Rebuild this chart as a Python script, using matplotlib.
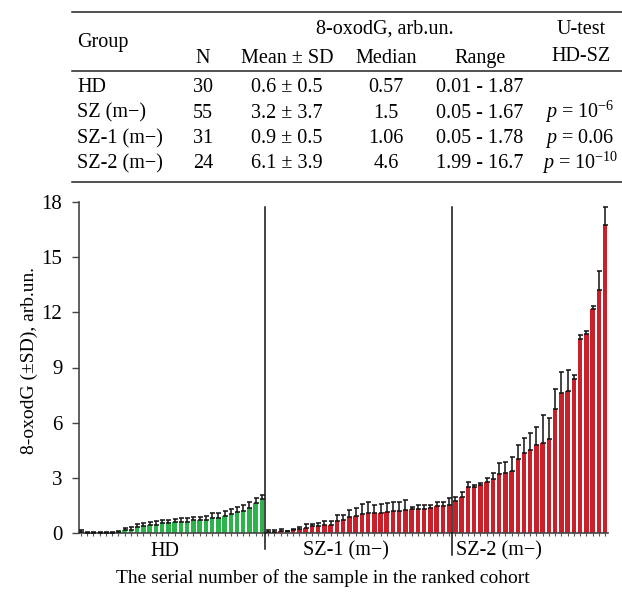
import matplotlib
matplotlib.use("Agg")
import matplotlib.pyplot as plt
import numpy as np

plt.rcParams['font.family'] = ['Liberation Serif', 'DejaVu Serif']
plt.rcParams['mathtext.fontset'] = 'custom'
plt.rcParams['mathtext.rm'] = 'Liberation Serif'
plt.rcParams['mathtext.it'] = 'Liberation Serif:italic'

# ---------------- data ----------------
hd_vals = [0.03, 0.02, 0.02, 0.02, 0.02, 0.02, 0.03, 0.16, 0.16, 0.31, 0.36, 0.42, 0.45, 0.53, 0.53,
           0.58, 0.62, 0.62, 0.69, 0.69, 0.72, 0.80, 0.83, 0.94, 1.03, 1.16, 1.21, 1.38, 1.61, 1.83]
hd_sd = [0.12, 0.03, 0.03, 0.03, 0.03, 0.03, 0.08, 0.11, 0.15, 0.18, 0.17, 0.18, 0.20, 0.16, 0.16,
         0.16, 0.18, 0.21, 0.20, 0.18, 0.20, 0.27, 0.27, 0.26, 0.29, 0.27, 0.29, 0.32, 0.29, 0.22]

sz1_vals = [0.07, 0.07, 0.09, 0.11, 0.14, 0.22, 0.25, 0.36, 0.38, 0.42, 0.43, 0.63, 0.72, 0.85, 0.91,
            1.01, 1.07, 1.09, 1.09, 1.12, 1.18, 1.18, 1.25, 1.30, 1.30, 1.30, 1.34, 1.45, 1.45, 1.54]
sz1_sd = [0.09, 0.08, 0.11, 0.02, 0.10, 0.11, 0.22, 0.15, 0.16, 0.25, 0.24, 0.35, 0.28, 0.40, 0.47,
          0.57, 0.60, 0.45, 0.49, 0.49, 0.49, 0.52, 0.53, 0.11, 0.20, 0.22, 0.20, 0.22, 0.22, 0.38]

sz2_vals = [1.76, 1.97, 2.48, 2.50, 2.59, 2.79, 2.92, 3.21, 3.24, 3.39, 4.02, 4.35, 4.51, 4.80, 4.91,
            5.13, 6.76, 7.61, 7.70, 8.39, 10.56, 10.83, 12.17, 13.24, 16.74]
sz2_sd = [0.20, 0.26, 0.31, 0.11, 0.15, 0.18, 0.34, 0.58, 0.60, 0.74, 0.78, 0.79, 0.91, 0.94, 1.48,
          1.10, 1.08, 1.12, 1.14, 0.18, 0.20, 0.17, 0.20, 1.00, 1.01]

group_labels = ["HD", "SZ-1 (m\u2212)", "SZ-2 (m\u2212)"]
y_ticks = [0, 3, 6, 9, 12, 15, 18]

table_header = ["Group", "N", "Mean \u00b1 SD", "Median", "Range"]
table_groups = ["HD", "SZ (m\u2212)", "SZ-1 (m\u2212)", "SZ-2 (m\u2212)"]
table_n = ["30", "55", "31", "24"]
table_mean = ["0.6 \u00b1 0.5", "3.2 \u00b1 3.7", "0.9 \u00b1 0.5", "6.1 \u00b1 3.9"]
table_median = ["0.57", "1.5", "1.06", "4.6"]
table_range = ["0.01 - 1.87", "0.05 - 1.67", "0.05 - 1.78", "1.99 - 16.7"]
table_p = ["", r"$p$ = 10$^{-6}$", r"$p$ = 0.06", r"$p$ = 10$^{-10}$"]

GREEN = "#2db34b"
RED = "#c8212b"
FS = 14
FS_TAB = 14.5
FS_TICK = 15

W, H = 622, 592
fig = plt.figure(figsize=(W / 100, H / 100), dpi=100)

def fx(x):
    return x / W

def fy(y):
    return 1 - y / H

# ---------------- axes ----------------
ax = fig.add_axes([fx(79), fy(533), fx(608) - fx(79), fy(202) - fy(533)])

n1, n2, n3 = len(hd_vals), len(sz1_vals), len(sz2_vals)
x_hd = np.arange(n1)
x_sz1 = np.arange(n1, n1 + n2)
x_sz2 = np.arange(n1 + n2, n1 + n2 + n3)

bw = 0.72
for xs, vals, sds, col in [(x_hd, hd_vals, hd_sd, GREEN),
                           (x_sz1, sz1_vals, sz1_sd, RED),
                           (x_sz2, sz2_vals, sz2_sd, RED)]:
    ax.bar(xs, vals, width=bw, color=col, edgecolor='none', zorder=2)
    ax.errorbar(xs, vals, yerr=[np.zeros(len(vals)), sds], fmt='none',
                ecolor='#111111', elinewidth=1.1, capsize=1.8, capthick=1.1, zorder=3)

ax.set_xlim(-0.32, n1 + n2 + n3 - 1 + 0.46)
ax.set_ylim(0, 18)
ax.set_yticks(y_ticks)
ax.set_yticklabels([str(t) for t in y_ticks])
ax.set_xticks(np.arange(n1 + n2 + n3))
ax.set_xticklabels([])
ax.tick_params(axis='x', length=2, width=0.8, color='#555555', direction='out')
ax.tick_params(axis='y', length=5, width=1.0, color='#444444', pad=7, labelsize=FS_TICK)
for s in ['top', 'right']:
    ax.spines[s].set_visible(False)
for s in ['left', 'bottom']:
    ax.spines[s].set_color('#444444')
    ax.spines[s].set_linewidth(1.2)

# group separators
for xsep, ybot in [(n1 - 0.5, -0.85), (n1 + n2 - 0.5, -1.2)]:
    ax.plot([xsep, xsep], [ybot, 17.75], color='#111111', lw=1.1, clip_on=False, zorder=4)

# group labels
grp_x = [13.5, 42.5, 67.0]
for gx, lab in zip(grp_x, group_labels):
    ax.text(gx, (533.3 - 556) / 18.4, lab, ha='center', va='baseline', fontsize=FS_TAB,
            clip_on=False)

fig.text(fx(323), fy(583), "The serial number of the sample in the ranked cohort",
         ha='center', va='baseline', fontsize=FS)
fig.text(fx(29), fy(360), "8-oxodG (\u00b1SD), arb.un.", ha='center', va='center',
         rotation=90, fontsize=FS)

# ---------------- table ----------------
for yy in [12.3, 70.7, 181.7]:
    fig.add_artist(plt.Line2D([fx(72), fx(622)], [fy(yy), fy(yy)], color='#222222', lw=1.1))

fig.text(fx(77), fy(46.7), table_header[0], ha='left', va='baseline', fontsize=FS_TAB)
fig.text(fx(385), fy(34), "8-oxodG, arb.un.", ha='center', va='baseline', fontsize=FS_TAB)
fig.text(fx(581), fy(34), "U-test", ha='center', va='baseline', fontsize=FS_TAB)
fig.text(fx(581), fy(60.7), "HD-SZ", ha='center', va='baseline', fontsize=FS_TAB)

col_x = [203, 287, 386, 480]
for cx, lab in zip(col_x, table_header[1:]):
    fig.text(fx(cx), fy(63), lab, ha='center', va='baseline', fontsize=FS_TAB)

row_base = [92, 117.5, 143, 168.5]
for i, yb in enumerate(row_base):
    fig.text(fx(77), fy(yb), table_groups[i], ha='left', va='baseline', fontsize=FS_TAB)
    fig.text(fx(col_x[0]), fy(yb), table_n[i], ha='center', va='baseline', fontsize=FS_TAB)
    fig.text(fx(col_x[1]), fy(yb), table_mean[i], ha='center', va='baseline', fontsize=FS_TAB)
    fig.text(fx(col_x[2]), fy(yb), table_median[i], ha='center', va='baseline', fontsize=FS_TAB)
    fig.text(fx(col_x[3]), fy(yb), table_range[i], ha='center', va='baseline', fontsize=FS_TAB)
    if table_p[i]:
        fig.text(fx(580), fy(yb), table_p[i], ha='center', va='baseline', fontsize=FS_TAB)

fig.savefig("out.png", dpi=100)
